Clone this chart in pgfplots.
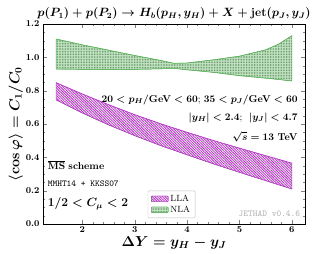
\documentclass[border=0pt]{standalone}
\usepackage{pgfplots}
\pgfplotsset{compat=1.18}
\usepgfplotslibrary{fillbetween}
\usetikzlibrary{patterns.meta}
\usepackage{amsmath}
\definecolor{llac}{RGB}{180,60,195}
\definecolor{nlac}{RGB}{90,180,90}
\begin{document}
\begin{tikzpicture}
\begin{axis}[
 scale only axis, width=262pt, height=200pt,
 xmin=1.25, xmax=6.25, ymin=0, ymax=1.2,
 xtick={2,3,4,5,6}, ytick={0,0.2,0.4,0.6,0.8,1.0,1.2},
 minor x tick num=4, minor y tick num=3,
 tick align=inside,
 major tick length=4pt, minor tick length=2pt,
 yticklabel style={/pgf/number format/fixed, /pgf/number format/fixed zerofill, /pgf/number format/precision=1},
 tick label style={font=\boldmath\small},
 xticklabel style={yshift=1pt},
 xlabel={$\boldsymbol{\Delta Y = y_H - y_J}$},
 xlabel style={font=\Large, yshift=3pt},
 ylabel={$\boldsymbol{\langle \cos\varphi \rangle = C_1/C_0}$},
 ylabel style={font=\Large, yshift=-4pt},
 title={$\boldsymbol{p(P_1) + p(P_2) \to H_b(p_H, y_H) + X + \textbf{jet}(p_J, y_J)}$},
 title style={font=\large, yshift=-5pt},
 legend style={at={(0.40,0.03)}, anchor=south west, draw=gray!50, rounded corners=1pt, font=\small, row sep=-1pt},
 legend cell align=left,
]
\addplot[name path=lu, draw=llac, line width=0.5pt, forget plot] coordinates {
 (1.5,0.848) (2,0.780) (2.5,0.716) (3,0.656) (3.5,0.601) (4,0.550) (4.5,0.501) (5,0.455) (5.5,0.410) (6,0.365)};
\addplot[name path=ll, draw=llac, line width=0.5pt, forget plot] coordinates {
 (1.5,0.745) (2,0.666) (2.5,0.595) (3,0.530) (3.5,0.470) (4,0.415) (4.5,0.361) (5,0.310) (5.5,0.260) (6,0.210)};
\addplot[area legend, draw=llac, fill=llac!15, postaction={pattern={Lines[angle=-45,distance=1.8pt,line width=0.8pt]}, pattern color=llac}] fill between[of=lu and ll];
\addlegendentry{LLA}
\addplot[name path=nu, draw=nlac, line width=0.5pt, forget plot] coordinates {
 (1.5,1.110) (2,1.075) (2.5,1.043) (3,1.011) (3.5,0.981) (3.75,0.964) (4,0.966) (4.5,0.985) (5,1.007) (5.5,1.045) (5.75,1.080) (6,1.130)};
\addplot[name path=nl, draw=nlac, line width=0.5pt, forget plot] coordinates {
 (1.5,0.930) (2,0.928) (2.5,0.926) (3,0.928) (3.5,0.931) (3.75,0.934) (4,0.925) (4.5,0.910) (5,0.890) (5.5,0.875) (5.75,0.867) (6,0.858)};
\addplot[area legend, draw=nlac, fill=nlac!35, postaction={pattern={Dots[distance=1.6pt,radius=0.4pt]}, pattern color=nlac!60!black}] fill between[of=nu and nl];
\addlegendentry{NLA}
\node[anchor=east, font=\boldmath\normalsize] at (rel axis cs:0.985,0.62) {$20 < p_H/\textbf{GeV} < 60$;\ $35 < p_J/\textbf{GeV} < 60$};
\node[anchor=east, font=\boldmath\normalsize] at (rel axis cs:0.985,0.53) {$|y_H| < 2.4$;\ \ $|y_J| < 4.7$};
\node[anchor=east, font=\boldmath\normalsize] at (rel axis cs:0.985,0.435) {$\sqrt{s} = 13$ \textbf{TeV}};
\node[anchor=west, font=\boldmath\normalsize] at (rel axis cs:0.005,0.295) {$\overline{\textbf{MS}}$ \textbf{scheme}};
\node[anchor=west, font=\ttfamily\small] at (rel axis cs:0.005,0.20) {MMHT14 + KKSS07};
\node[anchor=west, font=\boldmath\large] at (rel axis cs:0.005,0.10) {$1/2 < C_\mu < 2$};
\node[anchor=south east, font=\ttfamily\small, text=gray!60] at (rel axis cs:0.995,0.02) {JETHAD v0.4.6};
\end{axis}
\pgfresetboundingbox
\path ([shift={(-43pt,-29pt)}]current axis.south west) rectangle ([shift={(11pt,24pt)}]current axis.north east);
\end{tikzpicture}
\end{document}
